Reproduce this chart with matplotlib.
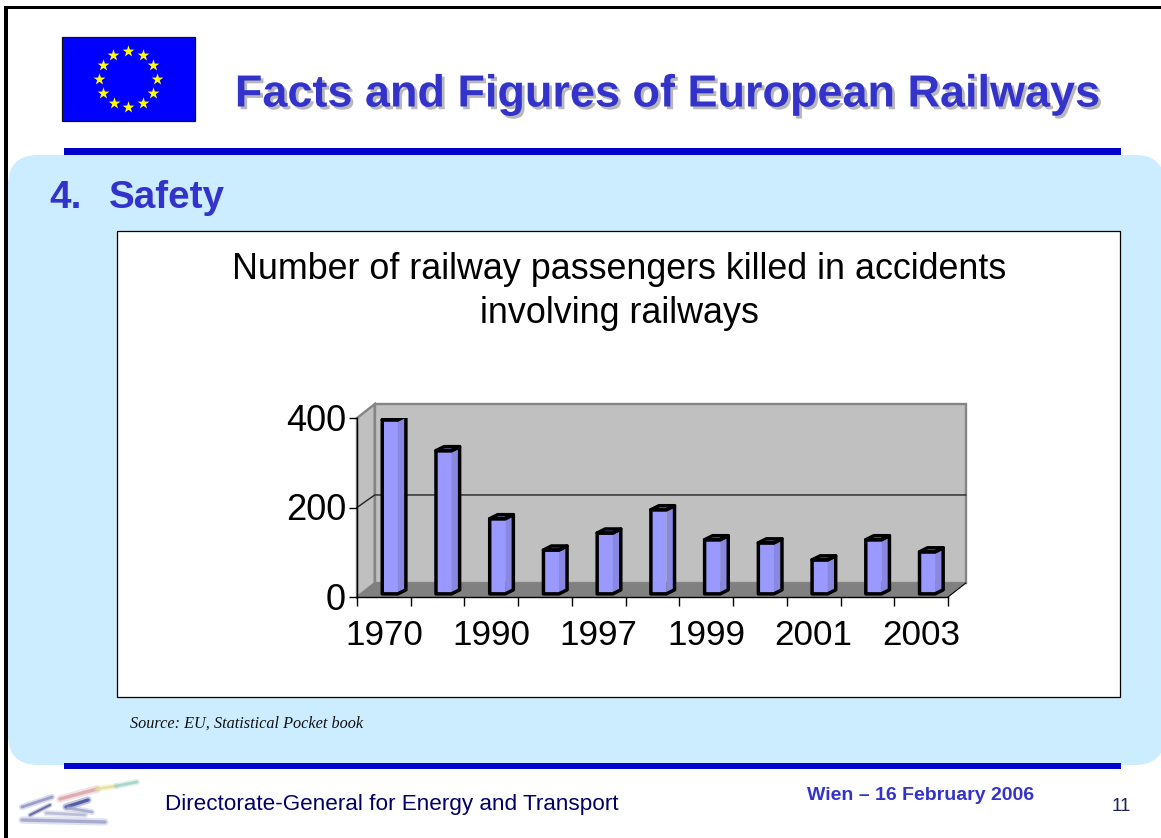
import numpy as np
import matplotlib
matplotlib.use("Agg")
import matplotlib.pyplot as plt
import matplotlib.patheffects as pe
from matplotlib.patches import FancyBboxPatch, Polygon, Rectangle
from matplotlib.transforms import ScaledTranslation

W, H = 1161, 838

# data
years = ['1970', '1980', '1990', '1995', '1997', '1998', '1999', '2000', '2001', '2002', '2003']
killed = [389, 320, 168, 98, 136, 188, 121, 114, 76, 121, 94]
shown_years = ['1970', '1990', '1997', '1999', '2001', '2003']
y_ticks = [0, 200, 400]

plt.rcParams['font.family'] = ['Liberation Sans', 'DejaVu Sans']

fig = plt.figure(figsize=(W/100, H/100), dpi=100, facecolor='white')

# page furniture, in pixel coordinates
bg = fig.add_axes([0, 0, 1, 1])
bg.set_xlim(0, W)
bg.set_ylim(H, 0)
bg.axis('off')

bg.add_patch(FancyBboxPatch((38, 185), 1097, 550, boxstyle='round,pad=30,rounding_size=30',
                            fc='#CCECFF', ec='none'))
bg.add_patch(Rectangle((4, 6), W, 3.5, fc='black', ec='none'))
bg.add_patch(Rectangle((4, 6), 4, H, fc='black', ec='none'))
bg.add_patch(Rectangle((64, 148), 1057, 7, fc='#0000CC', ec='none'))
bg.add_patch(Rectangle((64, 763), 1057, 6, fc='#0000CC', ec='none'))
bg.add_patch(Rectangle((116.8, 230.8), 1003.5, 466, fc='white', ec='black', lw=0.9))

# EU flag
bg.add_patch(Rectangle((62, 37), 132.5, 84.5, fc='#0000FF', ec='#111111', lw=0.9))
ang = np.deg2rad(np.arange(0, 360, 30))
bg.scatter(128 + 29*np.cos(ang), 79 + 28*np.sin(ang), marker='*', s=80, c='#FFFF00', lw=0, zorder=3)

# little logo bottom left
for x0, y0, x1, y1, c, lw in [(60, 799, 97, 789, '#D9A0A8', 2.5), (97, 789, 116, 786, '#E8DE90', 2),
                              (116, 786, 137, 782, '#9CD0C4', 2), (22, 807, 52, 797, '#8A8FC0', 2),
                              (30, 815, 50, 805, '#5058A0', 1.6), (66, 807, 88, 800, '#3A4596', 2.4),
                              (68, 808, 92, 812, '#A0A4CC', 2), (46, 813, 85, 815, '#B0B4D4', 2),
                              (22, 820, 105, 822, '#9A9EC8', 2.4)]:
    bg.plot([x0, x1], [y0, y1], color=c, lw=lw*2.2, alpha=0.3, solid_capstyle='round')
    bg.plot([x0, x1], [y0, y1], color=c, lw=lw, alpha=0.8, solid_capstyle='round')

bg.text(667, 95, 'Facts and Figures of European Railways', color='#3333CC', fontsize=32.4, fontweight='bold',
        ha='center', va='center',
        path_effects=[pe.SimplePatchShadow(offset=(2, -2), shadow_rgbFace='#B8B8B8', alpha=1), pe.Normal()])
bg.text(49, 198, '4.', color='#3333CC', fontsize=27.8, fontweight='bold', ha='left', va='center')
bg.text(109, 198, 'Safety', color='#3333CC', fontsize=27.8, fontweight='bold', ha='left', va='center')
bg.text(619.5, 291.5, 'Number of railway passengers killed in accidents\ninvolving railways', color='black',
        fontsize=25.8, ha='center', va='center', linespacing=1.3)
bg.text(130, 723.5, 'Source: EU, Statistical Pocket book', family='Liberation Serif', style='italic',
        fontsize=11.7, ha='left', va='center', color='#111111')
bg.text(165, 804, 'Directorate-General for Energy and Transport', color='#000066', fontsize=16.2,
        ha='left', va='center')
bg.text(921, 795, 'Wien \u2013 16 February 2006', color='#3333CC', fontsize=14, fontweight='bold',
        ha='center', va='center')
bg.text(1121, 806, '11', color='#222255', fontsize=13.5, ha='center', va='center')

# chart axes: front plane of the fake 3d box
left, right, base, top = 357, 948, 597, 418
ax = fig.add_axes([left/W, 1 - base/H, (right - left)/W, (base - top)/H], facecolor='none')
n = len(years)
ax.set_xlim(-0.5, n - 0.5)
ax.set_ylim(0, 400)

ddx, ddy = 0.33, 31     # box depth in data units
wall = dict(fc='#C0C0C0', ec='#858585', lw=1.7, zorder=1, clip_on=False)
xa, xb = -0.5, n - 0.5
ax.add_patch(Polygon([(xa, 0), (xa + ddx, ddy), (xa + ddx, 400 + ddy), (xa, 400)], **wall))
ax.add_patch(Polygon([(xa + ddx, ddy), (xb + ddx, ddy), (xb + ddx, 400 + ddy), (xa + ddx, 400 + ddy)], **wall))
ax.add_patch(Polygon([(xa, 0), (xa + ddx, ddy), (xb + ddx, ddy), (xb, 0)], fc='#808080', ec='none',
                     zorder=1.2, clip_on=False))
ax.plot([xa, xb], [0, 0], color='black', lw=1, zorder=1.3, clip_on=False)
ax.plot([xb, xb + ddx], [0, ddy], color='black', lw=0.8, zorder=1.3, clip_on=False)
for v in y_ticks[1:-1]:
    ax.plot([xa, xa + ddx, xb + ddx], [v, v + 28, v + 28], color='#222222', lw=1, zorder=1.5, clip_on=False)

# bars: faces first with no edge, then the black outline round them
x = np.arange(n)
floor = 7
bw, bdx, bdy = 0.29, 0.15, 9
ax.bar(x + 0.115, killed, width=bw, bottom=floor, color='#9999FF', edgecolor='none', zorder=3)
for xi, v in zip(x, killed):
    x0, x1 = xi - 0.03, xi - 0.03 + bw
    t = v + floor
    ax.add_patch(Polygon([(x1, floor), (x1 + bdx, floor + bdy), (x1 + bdx, t + bdy), (x1, t)],
                         fc='#8888E0', ec='none', zorder=3))
    ax.add_patch(Polygon([(x0, t), (x0 + bdx, t + bdy), (x1 + bdx, t + bdy), (x1, t)],
                         fc='#7F7FD6', ec='black', lw=2.5, joinstyle='round', zorder=3.2))
    ax.add_patch(Polygon([(x0, floor), (x1, floor), (x1 + bdx, floor + bdy), (x1 + bdx, t + bdy),
                          (x1, t), (x0, t)], fc='none', ec='black', lw=2.5, joinstyle='round', zorder=3.2))

for s in ['top', 'right', 'bottom']:
    ax.spines[s].set_visible(False)
ax.spines['left'].set_linewidth(1)
ax.set_yticks(y_ticks)
ax.set_xticks(np.arange(n + 1) - 0.5)
ax.set_xticklabels([])
ax.set_xticks(x[::2], labels=shown_years, minor=True)
ax.tick_params(axis='x', which='major', length=6.5, width=1)
ax.tick_params(axis='x', which='minor', length=0, labelsize=25.2, pad=15.5)
ax.tick_params(axis='y', length=6, width=1, labelsize=26, pad=2)
shift = ScaledTranslation(0, 1/100, fig.dpi_scale_trans)
for lab in ax.get_yticklabels():
    lab.set_transform(lab.get_transform() + shift)

fig.savefig('out.png', dpi=100)
